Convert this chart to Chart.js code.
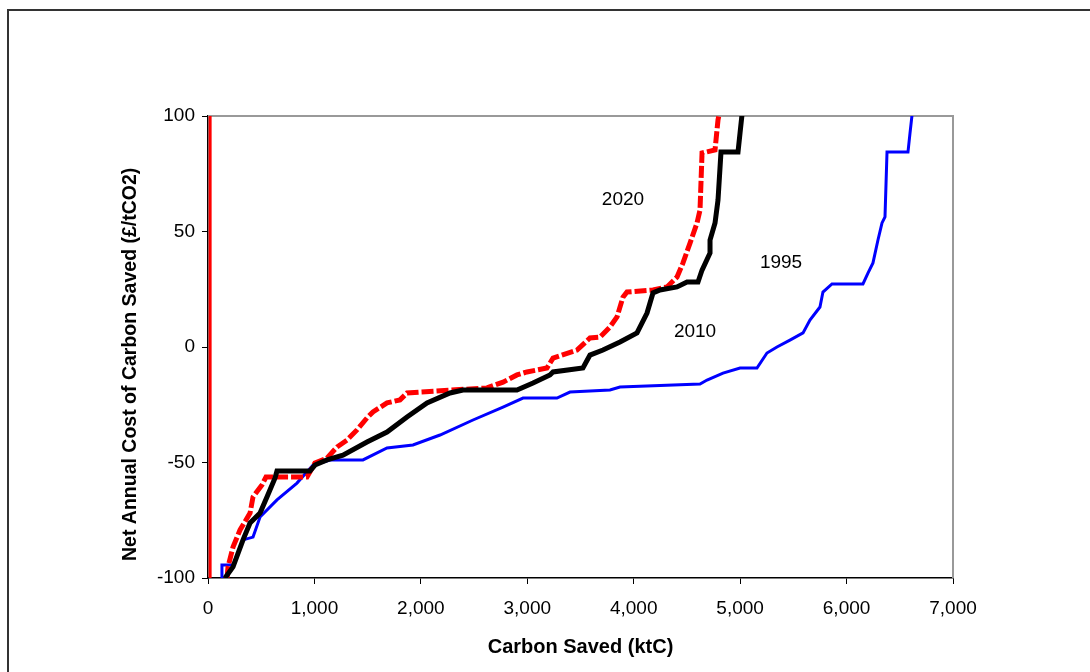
<!DOCTYPE html>
<html>
<head>
<meta charset="utf-8">
<script src="https://cdn.jsdelivr.net/npm/chart.js@4.4.1/dist/chart.umd.min.js"></script>
<style>
  html, body { margin: 0; padding: 0; background: #fff; }
  #wrap { position: relative; width: 1090px; height: 672px; }
</style>
</head>
<body>
<div id="wrap"><canvas id="c" width="1090" height="672"></canvas></div>
<script>
// Cumulative carbon saved (ktC) against net annual cost (£/tCO2), one curve per year
const saved1995 = [131, 131, 235, 329, 423, 489, 648, 836, 987, 1146, 1456, 1682, 1926, 2180, 2490, 2772, 2960, 3279, 3401, 3777, 3871, 4623, 4689, 4839, 4999, 5158, 5252, 5346, 5468, 5591, 5656, 5750, 5778, 5863, 6154, 6201, 6248, 6295, 6333, 6361, 6380, 6577, 6596, 6615];
const cost1995  = [-100, -94.4, -94.4, -83.5, -82.3, -73.6, -66.2, -58.9, -51.1, -48.9, -48.9, -43.7, -42.4, -38.1, -31.6, -26.0, -22.1, -22.1, -19.5, -18.6, -17.3, -16.0, -14.3, -11.3, -9.1, -9.1, -2.6, 0, 3.0, 6.1, 11.7, 17.3, 23.8, 27.3, 27.3, 32.0, 36.4, 46.3, 53.7, 56.3, 84.4, 84.4, 92.6, 100.4];

const saved2010 = [160, 235, 329, 395, 489, 554, 630, 648, 958, 1005, 1118, 1268, 1494, 1682, 1870, 2058, 2274, 2396, 2903, 3054, 3213, 3242, 3523, 3589, 3711, 3871, 4031, 4125, 4181, 4247, 4407, 4501, 4604, 4642, 4717, 4717, 4764, 4792, 4820, 4980, 4999, 5017];
const cost2010  = [-100, -95.2, -83.5, -76.2, -71.9, -64.9, -56.7, -53.7, -53.7, -51.1, -48.9, -46.8, -41.1, -36.8, -30.3, -24.2, -19.9, -18.6, -18.6, -15.6, -12.1, -10.8, -9.1, -3.5, -1.3, 2.2, 6.1, 14.7, 23.4, 24.7, 26.0, 28.1, 28.1, 33.3, 40.7, 46.3, 53.7, 63.6, 84.4, 84.4, 92.6, 100.4];

const saved2020 = [179, 188, 235, 301, 395, 423, 507, 545, 930, 1005, 1118, 1212, 1306, 1400, 1494, 1550, 1682, 1804, 1870, 1992, 2621, 2772, 2903, 2997, 3185, 3242, 3467, 3589, 3683, 3777, 3843, 3899, 3937, 4181, 4313, 4407, 4463, 4529, 4595, 4623, 4642, 4764, 4792, 4801];
const cost2020  = [-100, -95.2, -86.6, -79.2, -71.9, -64.9, -59.7, -56.3, -56.3, -50.2, -48.1, -43.3, -40.3, -35.9, -30.7, -28.1, -24.2, -22.9, -19.9, -19.5, -17.7, -15.2, -12.1, -10.8, -9.1, -4.8, -1.3, 3.9, 4.3, 8.7, 13.0, 21.6, 23.8, 24.7, 26.0, 30.3, 36.4, 45.0, 53.7, 59.3, 84.0, 85.3, 98.3, 100.4];

// 2020 series also has a vertical trace right at the origin
const saved2020Origin = [20, 20];
const cost2020Origin  = [-100, 100];

const xTicks = [0, 1000, 2000, 3000, 4000, 5000, 6000, 7000];
const yTicks = [-100, -50, 0, 50, 100];

const yearLabels = ['2020', '1995', '2010'];
const yearLabelSaved = [3899, 5384, 4576];
const yearLabelCost  = [63.6, 36.4, 6.5];

const xTitle = 'Carbon Saved (ktC)';
const yTitle = 'Net Annual Cost of Carbon Saved (£/tCO2)';

const toPoints = (xs, ys) => xs.map((x, i) => ({ x: x, y: ys[i] }));

const FONT = '"Liberation Sans", Arial, sans-serif';

const framePlugin = {
  id: 'frame',
  beforeDraw(chart) {
    const ctx = chart.ctx;
    ctx.save();
    ctx.fillStyle = '#fff';
    ctx.fillRect(0, 0, chart.width, chart.height);
    ctx.strokeStyle = '#333';
    ctx.lineWidth = 2;
    ctx.beginPath();
    ctx.moveTo(8, chart.height + 5);
    ctx.lineTo(8, 10);
    ctx.lineTo(chart.width + 5, 10);
    ctx.stroke();
    ctx.restore();
  },
  beforeDatasetsDraw(chart) {
    const a = chart.chartArea, ctx = chart.ctx;
    ctx.save();
    ctx.strokeStyle = '#999';
    ctx.lineWidth = 2;
    ctx.beginPath();
    ctx.moveTo(a.left, a.top);
    ctx.lineTo(a.right, a.top);
    ctx.lineTo(a.right, a.bottom);
    ctx.stroke();
    ctx.restore();
  },
  afterDraw(chart) {
    const ctx = chart.ctx, xs = chart.scales.x, ys = chart.scales.y;
    ctx.save();
    ctx.fillStyle = '#000';
    ctx.font = '19px ' + FONT;
    ctx.textAlign = 'center';
    ctx.textBaseline = 'middle';
    yearLabels.forEach((t, i) => {
      ctx.fillText(t, xs.getPixelForValue(yearLabelSaved[i]), ys.getPixelForValue(yearLabelCost[i]));
    });
    // vertical axis title, sitting slightly below the axis midpoint
    ctx.font = 'bold 19.5px ' + FONT;
    ctx.translate(131, ys.getPixelForValue(-7.5));
    ctx.rotate(-Math.PI / 2);
    ctx.fillText(yTitle, 0, 0);
    ctx.restore();
  }
};

new Chart(document.getElementById('c'), {
  type: 'line',
  data: {
    datasets: [
      { label: '2010', data: toPoints(saved2010, cost2010), borderColor: '#000', borderWidth: 5, order: 0 },
      { label: '2020', data: toPoints(saved2020, cost2020), borderColor: '#ff0000', borderWidth: 5, borderDash: [12, 3], order: 1 },
      { label: '1995', data: toPoints(saved1995, cost1995), borderColor: '#0000ff', borderWidth: 3, order: 2 },
      { label: '2020 origin', data: toPoints(saved2020Origin, cost2020Origin), borderColor: '#ff0000', borderWidth: 3, order: 3 }
    ]
  },
  options: {
    responsive: false,
    animation: false,
    devicePixelRatio: 1,
    layout: { padding: { left: 0, top: 116, right: 137, bottom: 0 } },
    elements: {
      point: { radius: 0, hoverRadius: 0 },
      line: { tension: 0, fill: false, borderJoinStyle: 'miter', borderCapStyle: 'butt' }
    },
    plugins: { legend: { display: false }, tooltip: { enabled: false } },
    scales: {
      x: {
        type: 'linear',
        min: 0, max: 7000,
        afterBuildTicks(s) { s.ticks = xTicks.map(v => ({ value: v })); },
        afterFit(s) { s.height = 94; },
        grid: { drawOnChartArea: false, drawTicks: true, tickLength: 6, color: '#000', tickColor: '#000' },
        border: { display: true, color: '#000', width: 1.5 },
        ticks: {
          color: '#000', padding: 13,
          font: { family: FONT, size: 19 },
          callback: v => v.toLocaleString('en-US')
        },
        title: {
          display: true, text: xTitle, color: '#000',
          font: { family: FONT, size: 20, weight: 'bold' },
          padding: { top: 0, bottom: 13 }
        }
      },
      y: {
        type: 'linear',
        min: -100, max: 100,
        afterBuildTicks(s) { s.ticks = yTicks.map(v => ({ value: v })); },
        afterFit(s) { s.width = 208; },
        grid: { drawOnChartArea: false, drawTicks: true, tickLength: 6, color: '#000', tickColor: '#000' },
        border: { display: true, color: '#000', width: 1.5 },
        ticks: {
          color: '#000', padding: 7,
          font: { family: FONT, size: 19 }
        },
        title: { display: false }
      }
    }
  },
  plugins: [framePlugin]
});
</script>
</body>
</html>
